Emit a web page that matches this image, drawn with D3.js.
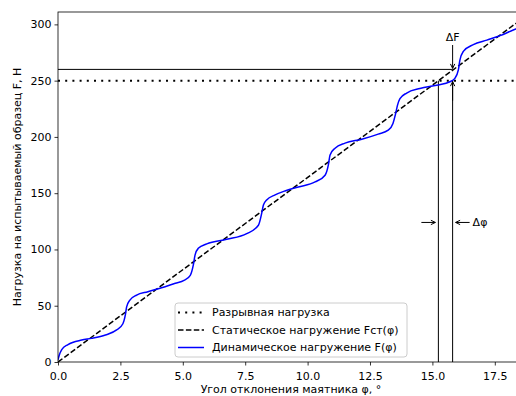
<!DOCTYPE html>
<html>
<head>
<meta charset="utf-8">
<script src="https://cdn.jsdelivr.net/npm/d3@7/dist/d3.min.js"></script>
<style>
  body { margin: 0; background: #fff; }
  text { font-family: "DejaVu Sans", sans-serif; fill: #000; }
</style>
</head>
<body>
<div id="chart"></div>
<script>
// tick labels
var xTicks = [0, 2.5, 5, 7.5, 10, 12.5, 15, 17.5];
var yTicks = [0, 50, 100, 150, 200, 250, 300];

// breaking load (dotted) and static load line (dashed)
var breakLoad = 250;
var staticPhi = [0, 18.7];
var staticF = [0, 306.7];

// dynamic load F(phi)
var dynPhi = [0, 0.05, 0.15, 0.4, 0.95, 1.35, 1.9, 2.35, 2.6, 2.7, 2.75, 2.88, 3.15, 3.6, 4.15, 4.7,
    5.05, 5.3, 5.42, 5.49, 5.62, 5.96, 6.76, 7.56, 8.03, 8.16, 8.23, 8.36, 8.7, 9.09, 9.63,
    10.3, 10.7, 10.83, 10.9, 11.1, 11.5, 12.17, 12.83, 13.23, 13.42, 13.52, 13.6, 13.7, 13.97,
    14.5, 15.17, 15.7, 15.9, 16.04, 16.1, 16.24, 16.64, 17.18, 17.71, 18.24, 18.7];
var dynF = [2, 6, 11, 15.5, 19.5, 21, 24, 28.5, 34, 42, 49, 55, 59.5, 62.5, 66, 70,
    72.5, 77, 86, 95, 101, 105, 109, 114, 121.5, 132, 139.5, 144, 148.5, 152, 155.5,
    160, 166, 175, 184, 190, 194.5, 198, 202.5, 206, 212, 220, 228, 234, 239,
    243, 246, 249, 252, 259.5, 268, 276, 282, 286, 290, 295, 299];

// annotation values
var topLoad = 260;
var phiBreak = 15.24;
var phiTop = 15.81;
var deltaPhiLevel = 124;

var legendNames = ['Разрывная нагрузка', 'Статическое нагружение Fст(φ)', 'Динамическое нагружение F(φ)'];

var fs = '11px';
var margin = { top: 12, left: 58 },
    w = 466,
    h = 350;

var svg = d3.select('#chart')
    .append('svg')
    .attr('width', 516)
    .attr('height', 396);

var g = svg.append('g')
    .attr('transform', `translate(${margin.left},${margin.top})`);

var xScale = d3.scaleLinear().domain([0, 18.67]).range([0, w]);
var yScale = d3.scaleLinear().domain([0, 311]).range([h, 0]);

g.append('clipPath').attr('id', 'clip')
    .append('rect').attr('width', w).attr('height', h);

var plot = g.append('g').attr('clip-path', 'url(#clip)');

var line = d3.line()
    .x(function (d) { return xScale(d[0]); })
    .y(function (d) { return yScale(d[1]); });

// dotted breaking load
plot.append('line')
    .attr('x1', 0).attr('x2', w)
    .attr('y1', yScale(breakLoad)).attr('y2', yScale(breakLoad))
    .attr('stroke', '#000').attr('stroke-width', 2)
    .attr('stroke-dasharray', '2,5.2');

// horizontal line at the top load
plot.append('line')
    .attr('x1', 0).attr('x2', xScale(phiTop))
    .attr('y1', yScale(topLoad)).attr('y2', yScale(topLoad))
    .attr('stroke', '#000').attr('stroke-width', 1);

// vertical lines
plot.append('line')
    .attr('x1', xScale(phiBreak)).attr('x2', xScale(phiBreak))
    .attr('y1', yScale(0)).attr('y2', yScale(breakLoad))
    .attr('stroke', '#000').attr('stroke-width', 1);
plot.append('line')
    .attr('x1', xScale(phiTop)).attr('x2', xScale(phiTop))
    .attr('y1', yScale(0)).attr('y2', yScale(breakLoad))
    .attr('stroke', '#000').attr('stroke-width', 1);

// static load
plot.append('path')
    .datum(staticPhi.map(function (p, i) { return [p, staticF[i]]; }))
    .attr('d', line)
    .attr('fill', 'none')
    .attr('stroke', '#000').attr('stroke-width', 1.5)
    .attr('stroke-dasharray', '5.5,2.4');

// dynamic load
plot.append('path')
    .datum(dynPhi.map(function (p, i) { return [p, dynF[i]]; }))
    .attr('d', line.curve(d3.curveMonotoneX))
    .attr('fill', 'none')
    .attr('stroke', '#0000ff').attr('stroke-width', 1.5);

// arrow helper (open head like '->')
function arrow(x1, y1, x2, y2) {
    var a = Math.atan2(y2 - y1, x2 - x1), L = 5, s = 0.45;
    g.append('path')
        .attr('d', `M${x1},${y1}L${x2},${y2}` +
            `M${x2 - L * Math.cos(a - s)},${y2 - L * Math.sin(a - s)}L${x2},${y2}` +
            `L${x2 - L * Math.cos(a + s)},${y2 - L * Math.sin(a + s)}`)
        .attr('fill', 'none').attr('stroke', '#000').attr('stroke-width', 1);
}

// ΔF
g.append('text')
    .attr('x', xScale(phiTop)).attr('y', 29)
    .attr('text-anchor', 'middle')
    .style('font-size', fs)
    .text('ΔF');
arrow(xScale(phiTop), 33, xScale(phiTop), yScale(topLoad) - 1);
arrow(xScale(phiTop), yScale(breakLoad) + 20, xScale(phiTop), yScale(breakLoad) + 1);

// Δφ
var yd = yScale(deltaPhiLevel);
arrow(xScale(phiBreak) - 17, yd, xScale(phiBreak) - 3, yd);
arrow(xScale(phiTop) + 17, yd, xScale(phiTop) + 3, yd);
g.append('text')
    .attr('x', xScale(phiTop) + 20).attr('y', yd)
    .attr('dy', '0.35em')
    .style('font-size', fs)
    .text('Δφ');

// axes
var xAxis = d3.axisBottom(xScale).tickValues(xTicks).tickFormat(d3.format('.1f')).tickSizeOuter(0).tickSize(3.5);
var yAxis = d3.axisLeft(yScale).tickValues(yTicks).tickFormat(d3.format('d')).tickSizeOuter(0).tickSize(3.5);

var gx = g.append('g').attr('transform', `translate(0,${h})`).call(xAxis);
var gy = g.append('g').call(yAxis);
[gx, gy].forEach(function (a) {
    a.select('.domain').remove();
    a.selectAll('line').attr('stroke', '#000').attr('stroke-width', 0.8);
    a.selectAll('text').style('font-size', fs).style('font-family', '"DejaVu Sans", sans-serif').attr('fill', '#000');
});
gx.selectAll('text').attr('dy', '1.0em');

// spines
g.append('rect')
    .attr('width', w).attr('height', h)
    .attr('fill', 'none').attr('stroke', '#000').attr('stroke-width', 0.8);

// axis labels
g.append('text')
    .attr('x', w / 2).attr('y', h + 31)
    .attr('text-anchor', 'middle')
    .style('font-size', fs)
    .text('Угол отклонения маятника φ, °');
g.append('text')
    .attr('transform', `translate(-37,${h / 2}) rotate(-90)`)
    .attr('text-anchor', 'middle')
    .style('font-size', fs)
    .text('Нагрузка на испытываемый образец F, Н');

// legend
var lg = g.append('g').attr('transform', `translate(${175 - margin.left},${303 - margin.top})`);
lg.append('rect')
    .attr('width', 232).attr('height', 54).attr('rx', 3)
    .attr('fill', '#fff').attr('fill-opacity', 0.8)
    .attr('stroke', '#ccc').attr('stroke-width', 1);
var styles = [
    { dash: '2,5.2', width: 2, color: '#000' },
    { dash: '5.5,2.4', width: 1.5, color: '#000' },
    { dash: null, width: 1.5, color: '#0000ff' }
];
legendNames.forEach(function (name, i) {
    var yy = 9.5 + i * 17.5;
    lg.append('line')
        .attr('x1', 3).attr('x2', 29).attr('y1', yy).attr('y2', yy)
        .attr('stroke', styles[i].color).attr('stroke-width', styles[i].width)
        .attr('stroke-dasharray', styles[i].dash);
    lg.append('text')
        .attr('x', 37).attr('y', yy).attr('dy', '0.35em')
        .style('font-size', fs)
        .text(name);
});
</script>
</body>
</html>
